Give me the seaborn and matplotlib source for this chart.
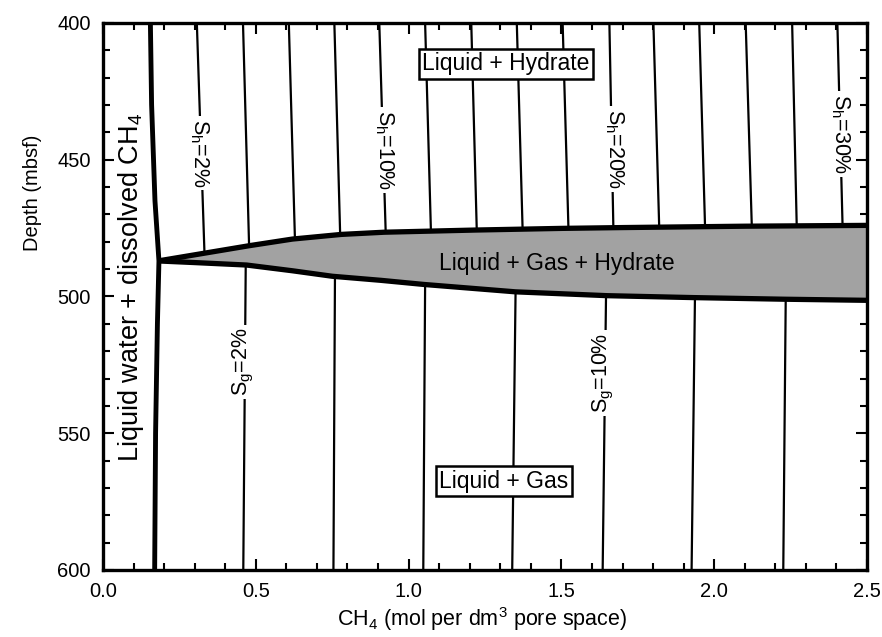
import numpy as np
import pandas as pd
import matplotlib
matplotlib.use("Agg")
import matplotlib.pyplot as plt
from matplotlib.ticker import MultipleLocator, FormatStrFormatter
import seaborn as sns

# ---------------- data ----------------
# methane solubility curve (x = CH4 mol/dm3, depth in mbsf)
sol_depth = [400, 430, 465, 487, 510, 550, 600]
sol_x = [0.155, 0.159, 0.170, 0.183, 0.178, 0.172, 0.169]

# three-phase zone: upper boundary (hydrate side) and lower boundary (gas side)
top_x = [0.18, 0.33, 0.48, 0.62, 0.78, 0.92, 1.07, 1.22, 1.50, 1.70, 2.10, 2.50]
top_depth = [487.0, 484.2, 481.4, 479.0, 477.3, 476.5, 476.1, 475.7, 475.1, 474.8, 474.3, 474.0]
bot_x = [0.18, 0.30, 0.47, 0.62, 0.75, 0.91, 1.05, 1.35, 1.65, 1.93, 2.23, 2.50]
bot_depth = [487.0, 487.6, 488.5, 490.6, 492.6, 494.1, 495.6, 498.3, 499.7, 500.4, 501.0, 501.4]

# hydrate saturation isolines (2 % steps)
sh_pct = [2, 4, 6, 8, 10, 12, 14, 16, 18, 20, 22, 24, 26, 28, 30]
sh_x_top = [0.307, 0.458, 0.608, 0.757, 0.904, 1.054, 1.205, 1.354, 1.504, 1.657,
            1.801, 1.951, 2.103, 2.255, 2.403]
sh_x_base = [0.332, 0.478, 0.628, 0.776, 0.925, 1.073, 1.223, 1.373, 1.523, 1.670,
             1.820, 1.970, 2.123, 2.270, 2.420]

# gas saturation isolines (2 % steps)
sg_pct = [2, 4, 6, 8, 10, 12, 14]
sg_x_base = [0.467, 0.759, 1.054, 1.350, 1.646, 1.937, 2.234]   # at three-phase zone
sg_x_bottom = [0.459, 0.754, 1.048, 1.339, 1.635, 1.926, 2.226]  # at 600 mbsf

# labelled isolines: percent, x, depth
sh_lab_pct = [2, 10, 20, 30]
sh_lab_x = [0.315, 0.921, 1.673, 2.412]
sh_lab_depth = [447.5, 446.5, 446.0, 440.6]
sg_lab_pct = [2, 10]
sg_lab_x = [0.461, 1.639]
sg_lab_depth = [524.0, 528.0]

depth_top, depth_bottom = 400, 600

# ---------------- style ----------------
sns.set_theme(style="ticks")
plt.rcParams["font.family"] = ["Liberation Sans", "DejaVu Sans"]
plt.rcParams["mathtext.fontset"] = "custom"
plt.rcParams["mathtext.rm"] = "Liberation Sans"
plt.rcParams["mathtext.it"] = "Liberation Sans:italic"
plt.rcParams["mathtext.default"] = "rm"
plt.rcParams["text.color"] = "black"
plt.rcParams["axes.labelcolor"] = "black"
plt.rcParams["xtick.color"] = "black"
plt.rcParams["ytick.color"] = "black"

fig = plt.figure(figsize=(8.82, 6.37), dpi=100)
ax = fig.add_axes([0.1168, 0.1052, 0.8662, 0.8587])

# ---------------- isolines ----------------
base_depth_h = np.interp(sh_x_base, top_x, top_depth)
rows = []
for i, p in enumerate(sh_pct):
    rows.append(dict(id=f"h{p}", x=sh_x_top[i], depth=depth_top))
    rows.append(dict(id=f"h{p}", x=sh_x_base[i], depth=base_depth_h[i]))
base_depth_g = np.interp(sg_x_base, bot_x, bot_depth)
for i, p in enumerate(sg_pct):
    rows.append(dict(id=f"g{p}", x=sg_x_base[i], depth=base_depth_g[i]))
    rows.append(dict(id=f"g{p}", x=sg_x_bottom[i], depth=depth_bottom))
iso = pd.DataFrame(rows)
sns.lineplot(data=iso, x="x", y="depth", units="id", estimator=None, sort=False,
             color="black", lw=1.6, ax=ax, legend=False, zorder=2)

# ---------------- three-phase zone ----------------
ax.fill(np.r_[top_x, bot_x[::-1]], np.r_[top_depth, bot_depth[::-1]],
        color="#a2a2a2", lw=0, zorder=3)
bnd = pd.DataFrame(dict(x=top_x + bot_x, depth=top_depth + bot_depth,
                        id=["top"] * len(top_x) + ["bot"] * len(bot_x)))
sns.lineplot(data=bnd, x="x", y="depth", units="id", estimator=None, sort=False,
             color="black", lw=3.8, ax=ax, legend=False, zorder=4,
             solid_capstyle="butt")

# ---------------- solubility curve ----------------
sol = pd.DataFrame(dict(x=sol_x, depth=sol_depth))
sns.lineplot(data=sol, x="x", y="depth", estimator=None, sort=False,
             color="black", lw=3.5, ax=ax, legend=False, zorder=4)

# ---------------- labels ----------------
lab_box = dict(boxstyle="square,pad=0.12", fc="white", ec="none")
for p, x, d in zip(sh_lab_pct, sh_lab_x, sh_lab_depth):
    ax.text(x, d, r"S$_{\mathrm{h}}$=" + f"{p}%", rotation=270, ha="center",
            va="center", rotation_mode="anchor", fontsize=15.5, bbox=lab_box, zorder=5)
for p, x, d in zip(sg_lab_pct, sg_lab_x, sg_lab_depth):
    ax.text(x, d, r"S$_{\mathrm{g}}$=" + f"{p}%", rotation=90, ha="center",
            va="center", rotation_mode="anchor", fontsize=15.5, bbox=lab_box, zorder=5)

region_box = dict(boxstyle="square,pad=0.15", fc="white", ec="black", lw=1.8)
ax.text(1.319, 414.9, "Liquid + Hydrate", ha="center", va="center",
        fontsize=16.5, bbox=region_box, zorder=6)
ax.text(1.311, 567.6, "Liquid + Gas", ha="center", va="center",
        fontsize=16.5, bbox=region_box, zorder=6)
ax.text(1.485, 488.0, "Liquid + Gas + Hydrate", ha="center", va="center",
        fontsize=16.5, zorder=6)
ax.text(0.092, 496.5, r"Liquid water + dissolved CH$_4$", rotation=90,
        ha="center", va="center", rotation_mode="anchor", fontsize=19.5, zorder=6)

# ---------------- axes ----------------
ax.set_xlim(0, 2.5)
ax.set_ylim(depth_bottom, depth_top)
ax.xaxis.set_major_locator(MultipleLocator(0.5))
ax.xaxis.set_minor_locator(MultipleLocator(0.1))
ax.yaxis.set_major_locator(MultipleLocator(50))
ax.yaxis.set_minor_locator(MultipleLocator(10))
ax.xaxis.set_major_formatter(FormatStrFormatter("%.1f"))
ax.tick_params(which="both", direction="in", top=True, right=True,
               width=1.5, colors="black", labelsize=14.5, pad=9)
ax.tick_params(which="major", length=8)
ax.tick_params(which="minor", length=5)
for s in ax.spines.values():
    s.set_linewidth(2.4)
    s.set_color("black")
    s.set_zorder(7)

ax.set_xlabel(r"CH$_4$ (mol per dm$^3$ pore space)", fontsize=15.5, color="black")
ax.set_ylabel("Depth (mbsf)", fontsize=14.5, color="black")
ax.yaxis.set_label_coords(-0.092, 0.689)
ax.xaxis.set_label_coords(0.496, -0.090)
ax.xaxis.label.set_va("center")
ax.yaxis.label.set_va("center")

fig.savefig("out.png", dpi=100)
